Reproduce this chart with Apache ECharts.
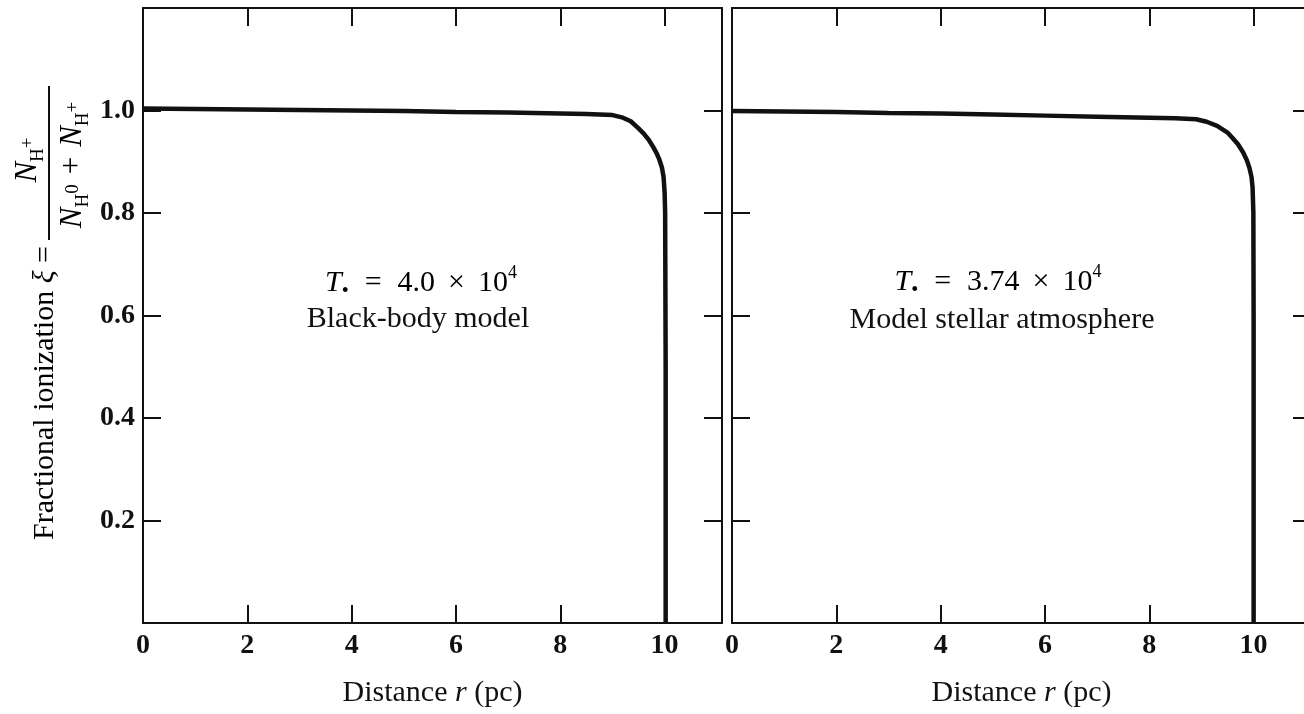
<!DOCTYPE html>
<html><head><meta charset="utf-8">
<script src="https://cdn.jsdelivr.net/npm/echarts@6/dist/echarts.min.js"></script>
<style>html,body{margin:0;padding:0;background:#fff}#c{width:1304px;height:714px}</style>
</head><body><div id="c"></div>
<script>
// ---- data ----
const leftR  = [0, 1, 2, 3, 4, 5, 6, 7, 8, 8.5, 9.0, 9.2, 9.35, 9.5, 9.6, 9.7, 9.78, 9.85, 9.9, 9.95, 9.98, 10.0, 10.01, 10.02, 10.02];
const leftXi = [1.004, 1.003, 1.002, 1.001, 1.0, 0.999, 0.997, 0.996, 0.994, 0.993, 0.991, 0.986, 0.979, 0.965, 0.955, 0.942, 0.929, 0.916, 0.904, 0.888, 0.87, 0.84, 0.8, 0.5, 0];
const rightR  = [0, 1, 2, 3, 4, 5, 6, 7, 8, 8.5, 8.9, 9.1, 9.3, 9.5, 9.6, 9.7, 9.8, 9.87, 9.92, 9.96, 9.98, 9.995, 10.0, 10.0];
const rightXi = [0.999, 0.998, 0.997, 0.995, 0.994, 0.992, 0.990, 0.988, 0.986, 0.985, 0.983, 0.978, 0.970, 0.957, 0.946, 0.934, 0.918, 0.903, 0.888, 0.87, 0.85, 0.8, 0.6, 0];
const xTickStep = 2;
const yTickStep = 0.2;
const xRange = [0, 11.1];
const yRange = [0, 1.2];
const panelTitles = [
  {line1: '{t|T}{b|•}{op|=}{a|4.0}{x|×}{a|10}{p|4}', line2: 'Black-body model'},
  {line1: '{t|T}{b|•}{op|=}{a|3.74}{x|×}{a|10}{p|4}', line2: 'Model stellar atmosphere'}
];
const xAxisName = '{a|Distance }{i|r}{a| (pc)}';
const yAxisText = '{a|Fractional ionization }{i|ξ}{a| =}';
const yNumerator = '{n|N}{s|H}{p|+}';
const yDenominator = '{n|N}{s|H}{p|0}{op|+}{n|N}{s|H}{p|+}';

// ---- style ----
const FONT = '"Liberation Serif", "Times New Roman", serif';
const INK = '#111';
const FS = 30;    // text
const FT = 28;    // tick labels

const chart = echarts.init(document.getElementById('c'), null, {renderer: 'canvas'});

const grids = [
  {left: 143, top: 8, width: 579, height: 615, outerBoundsMode: 'none', containLabel: false},
  {left: 732, top: 8, width: 579, height: 615, outerBoundsMode: 'none', containLabel: false}
];

function xAxisBottom(gi) {
  return {
    type: 'value', gridIndex: gi, min: xRange[0], max: xRange[1], interval: xTickStep, position: 'bottom',
    axisLine: {show: true, onZero: false, lineStyle: {color: INK, width: 2}},
    axisTick: {show: true, inside: true, length: 18, lineStyle: {color: INK, width: 2}},
    axisLabel: {show: true, margin: 9, fontFamily: FONT, fontSize: FT, fontWeight: 'bold', color: INK,
      formatter: v => (Math.abs(v - Math.round(v)) < 1e-6 && Math.round(v) % 2 === 0) ? String(Math.round(v)) : ''},
    splitLine: {show: false},
    name: xAxisName, nameLocation: 'middle', nameGap: 55,
    nameTextStyle: {rich: {
      a: {fontFamily: FONT, fontSize: FS, color: INK},
      i: {fontFamily: FONT, fontSize: FS, fontStyle: 'italic', color: INK}
    }}
  };
}
function xAxisTop(gi) {
  return {
    type: 'value', gridIndex: gi, min: xRange[0], max: xRange[1], interval: xTickStep, position: 'top',
    axisLine: {show: true, onZero: false, lineStyle: {color: INK, width: 2}},
    axisTick: {show: true, inside: true, length: 18, lineStyle: {color: INK, width: 2}},
    axisLabel: {show: false}, splitLine: {show: false}
  };
}
function yAxis(gi, pos, labels) {
  return {
    type: 'value', gridIndex: gi, min: yRange[0], max: yRange[1], interval: yTickStep, position: pos,
    axisLine: {show: true, onZero: false, lineStyle: {color: INK, width: 2}},
    axisTick: {show: true, inside: true, length: 18, lineStyle: {color: INK, width: 2}},
    axisLabel: {show: labels, margin: 8, fontFamily: FONT, fontSize: FT, fontWeight: 'bold', color: INK,
      formatter: v => (v > 0.05 && v < 1.1) ? v.toFixed(1) : ''},
    splitLine: {show: false}
  };
}

const richAnn = {
  t: {fontFamily: FONT, fontSize: FS, fontStyle: 'italic', color: INK, lineHeight: 38},
  b: {fontFamily: FONT, fontSize: 20, color: INK, lineHeight: 14, verticalAlign: 'bottom'},
  op: {fontFamily: FONT, fontSize: FS, color: INK, lineHeight: 38, padding: [0, 16, 0, 16]},
  x: {fontFamily: FONT, fontSize: FS, color: INK, lineHeight: 38, padding: [0, 13, 0, 13]},
  a: {fontFamily: FONT, fontSize: FS, color: INK, lineHeight: 38},
  p: {fontFamily: FONT, fontSize: 18, color: INK, lineHeight: 26, verticalAlign: 'top'}
};
const richFrac = {
  n: {fontFamily: FONT, fontSize: 31, fontStyle: 'italic', color: INK, lineHeight: 40},
  s: {fontFamily: FONT, fontSize: 19, color: INK, lineHeight: 19, verticalAlign: 'bottom'},
  p: {fontFamily: FONT, fontSize: 19, color: INK, lineHeight: 19, verticalAlign: 'middle'},
  op: {fontFamily: FONT, fontSize: 31, color: INK, lineHeight: 40, padding: [0, 10, 0, 10]}
};

const annPos = [[421, 283, 418, 319], [998, 282, 1002, 320]];
const graphic = [];
panelTitles.forEach((p, i) => {
  graphic.push({type: 'text', x: annPos[i][0], y: annPos[i][1], style: {text: p.line1, rich: richAnn, align: 'center', verticalAlign: 'middle'}});
  graphic.push({type: 'text', x: annPos[i][2], y: annPos[i][3], style: {text: p.line2, fontFamily: FONT, fontSize: FS, fill: INK, align: 'center', verticalAlign: 'middle'}});
});
graphic.push({type: 'text', x: 45, y: 393, rotation: Math.PI / 2,
  style: {text: yAxisText, align: 'center', verticalAlign: 'middle', rich: {
    a: {fontFamily: FONT, fontSize: FS, color: INK},
    i: {fontFamily: FONT, fontSize: FS, fontStyle: 'italic', color: INK}
  }}});
graphic.push({type: 'line', shape: {x1: 49, y1: 86, x2: 49, y2: 240}, style: {stroke: INK, lineWidth: 2}});
graphic.push({type: 'text', x: 28, y: 160, rotation: Math.PI / 2, style: {text: yNumerator, rich: richFrac, align: 'center', verticalAlign: 'middle'}});
graphic.push({type: 'text', x: 73, y: 165, rotation: Math.PI / 2, style: {text: yDenominator, rich: richFrac, align: 'center', verticalAlign: 'middle'}});

const option = {
  backgroundColor: '#fff',
  animation: false,
  grid: grids,
  xAxis: [xAxisBottom(0), xAxisTop(0), xAxisBottom(1), xAxisTop(1)],
  yAxis: [yAxis(0, 'left', true), yAxis(0, 'right', false), yAxis(1, 'left', false), yAxis(1, 'right', false)],
  series: [
    {type: 'line', xAxisIndex: 0, yAxisIndex: 0, data: leftR.map((r, k) => [r, leftXi[k]]),
      showSymbol: false, symbol: 'none', lineStyle: {color: INK, width: 4.5}, clip: false},
    {type: 'line', xAxisIndex: 2, yAxisIndex: 2, data: rightR.map((r, k) => [r, rightXi[k]]),
      showSymbol: false, symbol: 'none', lineStyle: {color: INK, width: 4.5}, clip: false}
  ],
  graphic: graphic
};
chart.setOption(option);
</script>
</body></html>
